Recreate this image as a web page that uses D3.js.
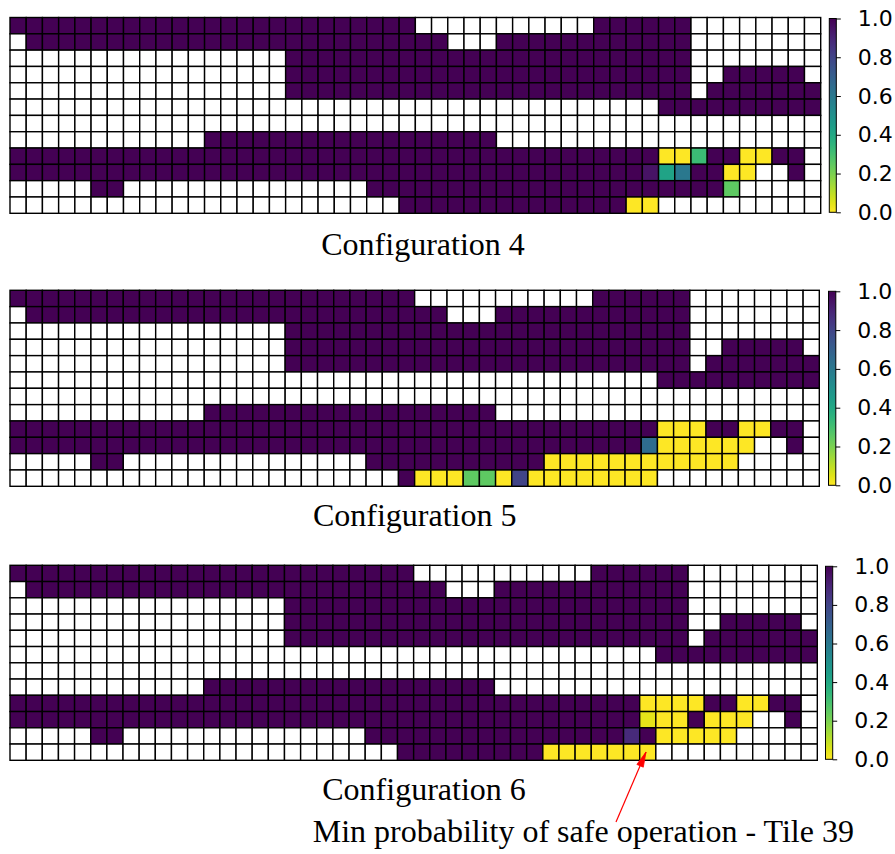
<!DOCTYPE html>
<html>
<head>
<meta charset="utf-8">
<script src="https://cdn.jsdelivr.net/npm/d3@7"></script>
<style>
  body { margin: 0; background: #fff; }
  svg { display: block; }
</style>
</head>
<body>
<div id="chart"></div>
<script>
// Cell codes: '.' = no tile (blank), '#' = 1.0, 'y' = 0.0, other letters see cellValues
const cellValues = { '#': 1.0, 'y': 0.0, 'a': 0.95, 'c': 0.32, 'd': 0.42, 'e': 0.6,
                     'f': 0.65, 'g': 0.25, 'h': 0.8, 'k': 0.04, 'm': 0.88 };

const config4 = [
  "####################" + "#####....." + "......####" + "##........",
  ".###################" + "#######..." + "##########" + "##........",
  ".................###" + "##########" + "##########" + "##........",
  ".................###" + "##########" + "##########" + "##..#####.",
  ".................###" + "##########" + "##########" + "##.#######",
  "...................." + ".........." + ".........." + "##########",
  "...................." + ".........." + ".........." + "..........",
  "............########" + "##########" + ".........." + "..........",
  "####################" + "##########" + "##########" + "yyc##yy##.",
  "####################" + "##########" + "#########a" + "de##yy..#.",
  ".....##............." + "..########" + "##########" + "####g.....",
  "...................." + "....######" + "########yy" + ".........."
];

const config5 = [
  "####################" + "#####....." + "......####" + "##........",
  ".###################" + "#######..." + "##########" + "##........",
  ".................###" + "##########" + "##########" + "##........",
  ".................###" + "##########" + "##########" + "##..#####.",
  ".................###" + "##########" + "##########" + "##.#######",
  "...................." + ".........." + ".........." + "##########",
  "...................." + ".........." + ".........." + "..........",
  "............########" + "##########" + ".........." + "..........",
  "####################" + "##########" + "##########" + "yyy##yy##.",
  "####################" + "##########" + "#########f" + "yyyyyy..#.",
  ".....##............." + "..########" + "###yyyyyyy" + "yyyyy.....",
  "...................." + "....#yyygg" + "yhyyyyyyyy" + ".........."
];

const config6 = [
  "####################" + "#####....." + "......####" + "##........",
  ".###################" + "#######..." + "##########" + "##........",
  ".................###" + "##########" + "##########" + "##........",
  ".................###" + "##########" + "##########" + "##..#####.",
  ".................###" + "##########" + "##########" + "##.#######",
  "...................." + ".........." + ".........." + "##########",
  "...................." + ".........." + ".........." + "..........",
  "............########" + "##########" + ".........." + "..........",
  "####################" + "##########" + "#########y" + "yyy##yy##.",
  "####################" + "##########" + "#########k" + "yy#yyy..#.",
  ".....##............." + "..########" + "########m#" + "yyyyy.....",
  "...................." + "....######" + "###yyyyyyy" + ".........."
];

const titles = ["Configuration 4", "Configuration 5", "Configuration 6"];
const colorTicks = [0.0, 0.2, 0.4, 0.6, 0.8, 1.0];
const annotationText = "Min probability of safe operation - Tile 39";

const W = 895, H = 854;

// per panel placement
const panels = [
  { grid: config4, x0: 10, x1: 820.7, y0: 17.5, y1: 213.3, cbx: 829.3, cbw: 7, tx: 423, ty: 255 },
  { grid: config5, x0: 10, x1: 819.3, y0: 290.3, y1: 486.3, cbx: 828.5, cbw: 7.3, tx: 414.7, ty: 526 },
  { grid: config6, x0: 10, x1: 817.3, y0: 565.3, y1: 760.3, cbx: 825.5, cbw: 7.2, tx: 424, ty: 800 }
];

const color = v => d3.interpolateViridis(1 - v);

const svg = d3.select("#chart").append("svg")
  .attr("width", W)
  .attr("height", H);

const defs = svg.append("defs");
const grad = defs.append("linearGradient")
  .attr("id", "cbar")
  .attr("x1", 0).attr("y1", 1).attr("x2", 0).attr("y2", 0);
d3.range(0, 1.0001, 0.05).forEach(t => {
  grad.append("stop").attr("offset", t).attr("stop-color", color(t));
});

panels.forEach((p, pi) => {
  const nRows = p.grid.length;
  const nCols = p.grid[0].length;

  const x = d3.scaleBand().domain(d3.range(nCols)).range([p.x0, p.x1]);
  const y = d3.scaleBand().domain(d3.range(nRows)).range([p.y0, p.y1]);

  const cells = [];
  p.grid.forEach((row, r) => {
    row.split("").forEach((ch, c) => {
      cells.push({ r: r, c: c, v: ch === "." ? null : cellValues[ch] });
    });
  });

  const g = svg.append("g");

  g.selectAll("rect.cell")
    .data(cells)
    .enter().append("rect")
    .attr("class", "cell")
    .attr("x", d => x(d.c))
    .attr("y", d => y(d.r))
    .attr("width", x.bandwidth())
    .attr("height", y.bandwidth())
    .attr("fill", d => d.v === null ? "#ffffff" : color(d.v))
    .attr("stroke", "#000")
    .attr("stroke-width", 1.4);

  // colorbar
  const cs = d3.scaleLinear().domain([0, 1]).range([p.y1 - 1, p.y0 + 1]);
  g.append("rect")
    .attr("x", p.cbx)
    .attr("y", p.y0 + 1)
    .attr("width", p.cbw)
    .attr("height", p.y1 - p.y0 - 2)
    .attr("fill", "url(#cbar)")
    .attr("stroke", "#000")
    .attr("stroke-width", 1);

  const ax = g.append("g")
    .attr("transform", "translate(" + (p.cbx + p.cbw) + ",0)")
    .call(d3.axisRight(cs)
      .tickValues(colorTicks)
      .tickFormat(d3.format(".1f"))
      .tickSize(4.5)
      .tickPadding(17));
  ax.select(".domain").remove();
  ax.selectAll("line").attr("stroke", "#000").attr("stroke-width", 1);
  ax.selectAll("text")
    .attr("font-family", "DejaVu Sans")
    .attr("font-size", "22px")
    .attr("fill", "#000");

  // panel title
  svg.append("text")
    .attr("x", p.tx)
    .attr("y", p.ty)
    .attr("text-anchor", "middle")
    .attr("font-family", "Liberation Serif")
    .attr("font-size", "32px")
    .attr("fill", "#000")
    .text(titles[pi]);
});

// annotation with red arrow
const arrowFrom = [616, 822], arrowTo = [646, 752];
svg.append("line")
  .attr("x1", arrowFrom[0]).attr("y1", arrowFrom[1])
  .attr("x2", arrowTo[0]).attr("y2", arrowTo[1])
  .attr("stroke", "#ff0000")
  .attr("stroke-width", 1.2);

const ang = Math.atan2(arrowTo[1] - arrowFrom[1], arrowTo[0] - arrowFrom[0]);
const hl = 15, hw = 3.5;
const bx = arrowTo[0] - hl * Math.cos(ang), by = arrowTo[1] - hl * Math.sin(ang);
svg.append("path")
  .attr("d", d3.line()([
    arrowTo,
    [bx + hw * Math.sin(ang), by - hw * Math.cos(ang)],
    [bx - hw * Math.sin(ang), by + hw * Math.cos(ang)]
  ]) + "Z")
  .attr("fill", "#ff0000")
  .attr("stroke", "#ff0000")
  .attr("stroke-width", 0.8);

svg.append("text")
  .attr("x", 312.7)
  .attr("y", 842.3)
  .attr("font-family", "Liberation Serif")
  .attr("font-size", "32px")
  .attr("fill", "#000")
  .text(annotationText);
</script>
</body>
</html>
